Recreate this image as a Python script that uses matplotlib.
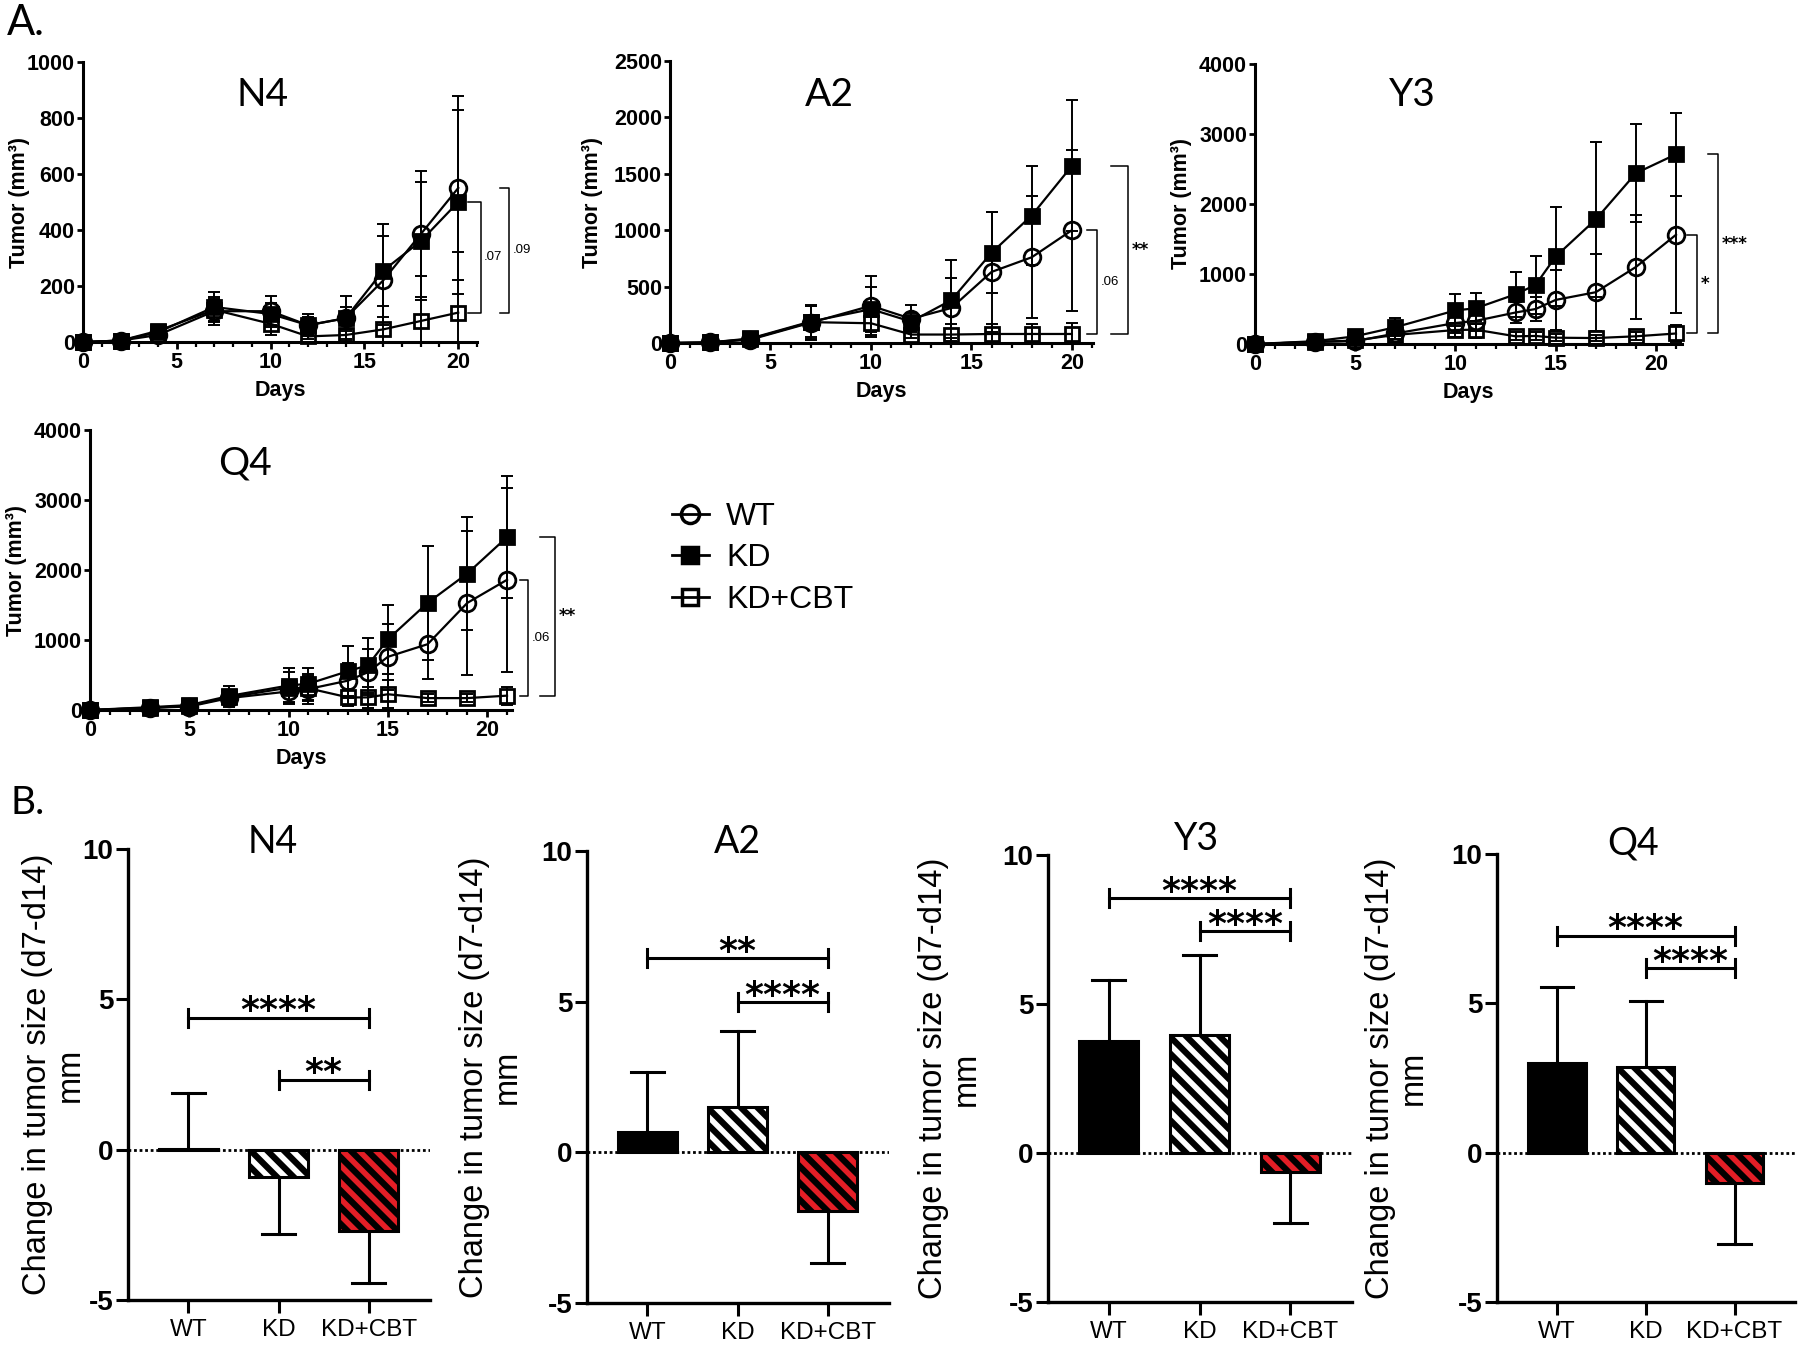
import matplotlib
matplotlib.use('Agg')
import numpy as np
import matplotlib.pyplot as plt
from matplotlib.lines import Line2D
from matplotlib.ticker import MultipleLocator

plt.rcParams['axes.unicode_minus'] = False
plt.rcParams['hatch.linewidth'] = 4.5
plt.rcParams['hatch.color'] = 'black'
plt.rcParams['font.family'] = ['Liberation Sans', 'DejaVu Sans']

NARROW = ['Liberation Sans Narrow', 'Liberation Sans', 'DejaVu Sans']
ARIAL = ['Liberation Sans', 'DejaVu Sans']
TITLE = ['Lato', 'DejaVu Sans']
STARS = ['DejaVu Sans']

groups = ['WT', 'KD', 'KD+CBT']

# ---- A: tumour growth (mm3), mean and error ----
n4_days = [0, 2, 4, 7, 10, 12, 14, 16, 18, 20]
n4_wt = [0, 5, 25, 110, 110, 60, 85, 220, 385, 550]
n4_wt_err = [0, 3, 10, 50, 55, 30, 40, 160, 225, 330]
n4_kd = [0, 5, 35, 125, 100, 60, 85, 255, 360, 500]
n4_kd_err = [0, 3, 12, 55, 40, 40, 80, 165, 210, 330]
n4_cbt = [0, 5, 40, 115, 65, 20, 25, 45, 75, 105]
n4_cbt_err = [0, 3, 10, 40, 40, 10, 15, 85, 160, 215]

a2_days = [0, 2, 4, 7, 10, 12, 14, 16, 18, 20]
a2_wt = [0, 5, 30, 180, 330, 215, 310, 630, 760, 1000]
a2_wt_err = [0, 5, 15, 150, 260, 120, 270, 530, 540, 715]
a2_kd = [0, 5, 40, 190, 300, 190, 380, 800, 1130, 1570]
a2_kd_err = [0, 5, 15, 140, 200, 80, 360, 360, 440, 580]
a2_cbt = [0, 5, 35, 185, 175, 75, 75, 80, 80, 80]
a2_cbt_err = [0, 5, 10, 150, 120, 30, 90, 85, 85, 95]

y3_days = [0, 3, 5, 7, 10, 11, 13, 14, 15, 17, 19, 21]
y3_wt = [0, 30, 40, 150, 300, 330, 450, 500, 630, 740, 1100, 1560]
y3_wt_err = [0, 10, 20, 80, 150, 150, 150, 170, 430, 550, 740, 1120]
y3_kd = [0, 40, 110, 240, 480, 510, 710, 845, 1250, 1780, 2440, 2710]
y3_kd_err = [0, 15, 40, 130, 230, 220, 320, 410, 710, 1110, 700, 590]
y3_cbt = [0, 30, 50, 130, 200, 205, 110, 115, 90, 85, 110, 150]
y3_cbt_err = [0, 10, 20, 60, 100, 120, 60, 60, 50, 40, 60, 120]

q4_days = [0, 3, 5, 7, 10, 11, 13, 14, 15, 17, 19, 21]
q4_wt = [0, 30, 50, 170, 265, 300, 420, 540, 760, 940, 1530, 1860]
q4_wt_err = [0, 10, 20, 100, 150, 220, 250, 330, 470, 500, 1030, 1310]
q4_kd = [0, 40, 70, 200, 350, 375, 555, 640, 1010, 1530, 1950, 2470]
q4_kd_err = [0, 15, 30, 150, 250, 230, 360, 390, 490, 810, 810, 870]
q4_cbt = [0, 30, 60, 180, 320, 310, 180, 180, 225, 170, 170, 205]
q4_cbt_err = [0, 10, 20, 100, 230, 180, 120, 150, 200, 60, 60, 130]

# significance vs KD+CBT at last day: (group, label)
n4_growth_sig = [('KD', '.07'), ('WT', '.09')]
a2_growth_sig = [('WT', '.06'), ('KD', '**')]
y3_growth_sig = [('WT', '*'), ('KD', '***')]
q4_growth_sig = [('WT', '.06'), ('KD', '**')]

# ---- B: change in tumour size d7-d14 (mm), mean and error ----
n4_change = [0.03, -0.9, -2.7]
n4_change_err = [1.87, 1.92, 1.74]
a2_change = [0.66, 1.50, -1.95]
a2_change_err = [2.0, 2.53, 1.72]
y3_change = [3.75, 3.96, -0.65]
y3_change_err = [2.06, 2.68, 1.69]
q4_change = [3.0, 2.87, -1.0]
q4_change_err = [2.55, 2.22, 2.07]
# (WT vs KD+CBT, KD vs KD+CBT)
n4_change_sig = ['****', '**']
a2_change_sig = ['**', '****']
y3_change_sig = ['****', '****']
q4_change_sig = ['****', '****']

W, H = 1800, 1348
fig = plt.figure(figsize=(W / 100, H / 100), dpi=100)


def add_ax(l, t, r, b):
    return fig.add_axes([l / W, 1 - b / H, (r - l) / W, (b - t) / H])


def growth_panel(box, days, wt, wt_err, kd, kd_err, cbt, cbt_err, ymax, ystep, xmax,
                 title, title_xy, ylab_x, sigs, sig_pos):
    ax = add_ax(*box)
    for mean, err, mk, fc, ms, z in [(cbt, cbt_err, 's', 'none', 10.5, 2),
                                      (wt, wt_err, 'o', 'none', 12, 3),
                                      (kd, kd_err, 's', 'black', 10.5, 4)]:
        ax.errorbar(days, mean, yerr=err, fmt='none', ecolor='black', elinewidth=1.4,
                    capsize=4.3, capthick=1.4, zorder=z)
        ax.plot(days, mean, color='black', lw=1.6, marker=mk, ms=ms, mfc=fc, mec='black',
                mew=2, clip_on=False, zorder=z + 0.5)
    ax.set_xlim(0, xmax)
    ax.set_ylim(0, ymax)
    xt = [0, 5, 10, 15, 20]
    yt = list(range(0, ymax + 1, ystep))
    ax.set_xticks(xt, [str(v) for v in xt], family=NARROW, fontweight='bold', fontsize=15.5)
    ax.set_yticks(yt, [str(v) for v in yt], family=NARROW, fontweight='bold', fontsize=15.5)
    ax.xaxis.set_minor_locator(MultipleLocator(1))
    ax.tick_params(axis='y', which='major', length=4.3, width=2, pad=1.5)
    ax.tick_params(axis='x', which='major', length=5, width=2, pad=2)
    ax.tick_params(axis='x', which='minor', length=3.5, width=1.6)
    for s in ['top', 'right']:
        ax.spines[s].set_visible(False)
    for s in ['left', 'bottom']:
        ax.spines[s].set_linewidth(2.2)
    ax.set_ylabel('Tumor (mm³)', family=NARROW, fontweight='bold', fontsize=15.5, va='center')
    ax.yaxis.set_label_coords(ylab_x, 0.5)
    ax.set_xlabel('Days', family=NARROW, fontweight='bold', fontsize=15.5, va='center')
    ax.xaxis.set_label_coords(0.5, -0.172)
    ax.text(title_xy[0], title_xy[1], title, transform=ax.transAxes, ha='center', va='center',
            family=TITLE, fontsize=28)
    last = {'WT': wt[-1], 'KD': kd[-1]}
    for (grp, label), (x_tip, x_bar) in zip(sigs, sig_pos):
        y_top, y_bot = last[grp], cbt[-1]
        ax.plot([x_tip, x_bar, x_bar, x_tip], [y_top, y_top, y_bot, y_bot], color='black',
                lw=1.1, clip_on=False)
        ym = (y_top + y_bot) / 2
        if label.startswith('*'):
            ax.text(x_bar + 0.2, ym, label, ha='left', va='center', family=STARS,
                    fontweight='bold', fontsize=12)
        else:
            ax.text(x_bar + 0.18, ym, label, ha='left', va='center', family=ARIAL, fontsize=9.5)
    return ax


growth_panel((83, 62, 477, 342), n4_days, n4_wt, n4_wt_err, n4_kd, n4_kd_err, n4_cbt, n4_cbt_err,
             1000, 200, 21, 'N4', (0.457, 0.882), -0.16, n4_growth_sig, [(20.5, 21.2), (22.2, 22.7)])
growth_panel((670, 61, 1093, 343), a2_days, a2_wt, a2_wt_err, a2_kd, a2_kd_err, a2_cbt, a2_cbt_err,
             2500, 500, 21.05, 'A2', (0.376, 0.879), -0.184, a2_growth_sig,
             [(20.75, 21.25), (21.97, 22.8)])
growth_panel((1255, 64, 1682, 344), y3_days, y3_wt, y3_wt_err, y3_kd, y3_kd_err, y3_cbt, y3_cbt_err,
             4000, 1000, 21.3, 'Y3', (0.368, 0.889), -0.171, y3_growth_sig,
             [(21.55, 22.05), (22.6, 23.1)])
growth_panel((90, 430, 512, 710), q4_days, q4_wt, q4_wt_err, q4_kd, q4_kd_err, q4_cbt, q4_cbt_err,
             4000, 1000, 21.25, 'Q4', (0.367, 0.882), -0.173, q4_growth_sig,
             [(21.66, 22.07), (22.67, 23.4)])

handles = [Line2D([], [], color='black', lw=2, marker='o', ms=13, mfc='none', mew=2.5),
           Line2D([], [], color='black', lw=2, marker='s', ms=11.5, mfc='black', mew=2.5),
           Line2D([], [], color='black', lw=2, marker='s', ms=11.5, mfc='none', mew=2.5)]
fig.legend(handles, groups, loc='upper left', bbox_to_anchor=(672 / W, 1 - 502 / H), frameon=False,
           prop=dict(family=ARIAL, size=23), handlelength=1.15, handletextpad=0.55,
           labelspacing=0.36, borderpad=0, borderaxespad=0)


def change_panel(box, vals, errs, sigs, sig_y, title, title_xy, ylab_x):
    ax = add_ax(*box)
    x = np.arange(len(groups))
    faces = ['black', 'white', '#e41e26']
    hatches = [None, '\\\\', '\\\\']
    ax.axhline(0, color='black', lw=2, ls=(0, (1, 1)), zorder=0.5)
    for xi, v, e, fc, h in zip(x, vals, errs, faces, hatches):
        ax.bar(xi, v, width=0.65, color=fc, edgecolor='black', linewidth=2.2, hatch=h, zorder=2)
        tip = v + e if v >= 0 else v - e
        ax.plot([xi, xi], [v, tip], color='black', lw=2.2, zorder=1.5)
        ax.plot([xi - 0.18, xi + 0.18], [tip, tip], color='black', lw=2.2, zorder=1.5)
    for (a, b), label, y in zip([(0, 2), (1, 2)], sigs, sig_y):
        ax.plot([a, b], [y, y], color='black', lw=2.2)
        ax.plot([a, a], [y - 0.3, y + 0.3], color='black', lw=2.2)
        ax.plot([b, b], [y - 0.3, y + 0.3], color='black', lw=2.2)
        ax.text((a + b) / 2, y - 0.12, label, ha='center', va='baseline', family=STARS,
                fontweight='bold', fontsize=26)
    ax.set_xlim(-0.67, 2.68)
    ax.set_ylim(-5, 10)
    ax.set_xticks(x, groups, family=ARIAL, fontsize=17.5)
    ax.set_yticks([-5, 0, 5, 10], ['-5', '0', '5', '10'], family=ARIAL, fontweight='bold',
                  fontsize=20)
    ax.tick_params(axis='x', length=9, width=2.2, pad=5)
    ax.tick_params(axis='y', length=9, width=2.2, pad=1.5)
    for s in ['top', 'right']:
        ax.spines[s].set_visible(False)
    for s in ['left', 'bottom']:
        ax.spines[s].set_linewidth(2.4)
    ax.set_ylabel('Change in tumor size (d7-d14)\nmm', family=ARIAL, fontsize=23.5, va='center',
                  multialignment='center', linespacing=1.1)
    ax.yaxis.set_label_coords(ylab_x, 0.5)
    ax.text(title_xy[0], title_xy[1], title, transform=ax.transAxes, ha='center', va='center',
            family=TITLE, fontsize=27)
    return ax


change_panel((128, 849, 430, 1300), n4_change, n4_change_err, n4_change_sig, [4.39, 2.33],
             'N4', (0.48, 1.016), -0.245)
change_panel((587, 851, 889, 1303), a2_change, a2_change_err, a2_change_sig, [6.45, 4.99],
             'A2', (0.497, 1.021), -0.318)
change_panel((1048, 855, 1352, 1302), y3_change, y3_change_err, y3_change_sig, [8.55, 7.45],
             'Y3', (0.49, 1.035), -0.322)
change_panel((1497, 854, 1795, 1302), q4_change, q4_change_err, q4_change_sig, [7.26, 6.17],
             'Q4', (0.456, 1.023), -0.336)

fig.text(7 / W, 1 - 23 / H, 'A.', family=TITLE, fontsize=30, ha='left', va='center')
fig.text(10 / W, 1 - 803 / H, 'B.', family=TITLE, fontsize=28, ha='left', va='center')

fig.savefig('out.png', dpi=100, facecolor='white')
